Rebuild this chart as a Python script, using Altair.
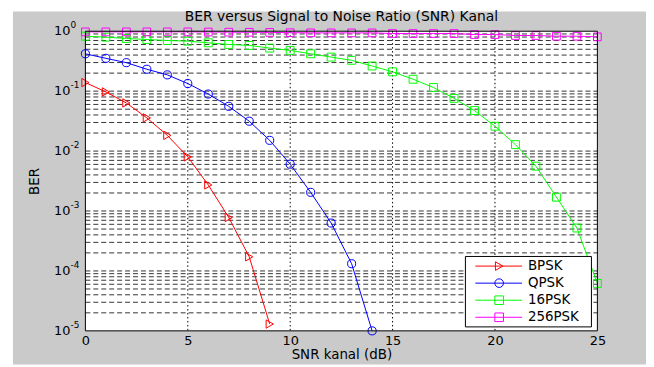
import altair as alt
import pandas as pd

# ---- data ----
series_names = ["BPSK", "QPSK", "16PSK", "256PSK"]
snr_bpsk = list(range(0, 10))
ber_bpsk = [0.139, 0.097, 0.0635, 0.0358, 0.0183, 0.0080, 0.00272, 0.00078, 0.000172, 1.3e-5]
snr_qpsk = list(range(0, 15))
ber_qpsk = [0.42, 0.353, 0.299, 0.232, 0.187, 0.134, 0.0895, 0.0558, 0.0315, 0.0151,
            0.00604, 0.00205, 0.00063, 0.000132, 1.0e-5]
snr_16psk = list(range(0, 26))
ber_16psk = [0.826, 0.796, 0.757, 0.728, 0.70, 0.683, 0.641, 0.601, 0.58, 0.523,
             0.479, 0.42, 0.37, 0.327, 0.263, 0.21, 0.158, 0.115, 0.0758, 0.0474,
             0.026, 0.0128, 0.0056, 0.0017, 0.00052, 6.2e-5]
snr_256psk = list(range(0, 26))
ber_256psk = [0.975, 0.975, 0.975, 0.975, 0.975, 0.975, 0.97, 0.965, 0.96, 0.955,
              0.945, 0.94, 0.938, 0.938, 0.938, 0.915, 0.915, 0.915, 0.915, 0.88,
              0.88, 0.848, 0.848, 0.826, 0.826, 0.806]
colors = ["#ff0000", "#0000ff", "#00ff00", "#ff00ff"]
shapes = ["triangle-right", "circle", "square", "square"]
x_ticks = [0, 5, 10, 15, 20, 25]
x_grid = [5, 10, 15, 20]
y_decades = [0, -1, -2, -3, -4, -5]
y_grid = [m * 10.0 ** k for k in range(-5, 0) for m in range(1, 10)][1:]

title_text = "BER versus Signal to Noise Ratio (SNR) Kanal"
x_title = "SNR kanal (dB)"
y_title = "BER"

FONT = "DejaVu Sans"
W, H = 516, 302

rows = []
for name, xs, ys in [("BPSK", snr_bpsk, ber_bpsk), ("QPSK", snr_qpsk, ber_qpsk),
                     ("16PSK", snr_16psk, ber_16psk), ("256PSK", snr_256psk, ber_256psk)]:
    for xv, yv in zip(xs, ys):
        rows.append({"series": name, "snr": xv, "ber": yv})
df = pd.DataFrame(rows)

xscale = alt.Scale(domain=[0, 25], nice=False, zero=False)
yscale = alt.Scale(type="log", domain=[1e-5, 1], nice=False)
cscale = alt.Scale(domain=series_names, range=colors)
sscale = alt.Scale(domain=series_names, range=shapes)
zscale = alt.Scale(domain=series_names, range=[70, 60, 80, 80])

X_AX = alt.Axis(values=x_ticks, title=x_title, grid=False, domain=False,
                ticks=False, labelFont=FONT, labelFontSize=13,
                labelColor="black", labelPadding=4, labelFlush=False,
                titleFont=FONT, titleFontSize=13.5, titleFontWeight="normal",
                titleColor="black", titleX=W / 2, titleY=24,
                titleBaseline="middle", zindex=1)
Y_AX = alt.Axis(labels=False, ticks=False, domain=False, grid=False,
                title=y_title, titleFont=FONT, titleFontSize=13.5,
                titleFontWeight="normal", titleColor="black",
                titleX=-51, titleY=H / 2, titleAngle=270,
                titleBaseline="middle", zindex=1)

one = pd.DataFrame({"k": [0]})

layers = []
# figure grey background
layers.append(alt.Chart(one).mark_rect(color="#cacaca").encode(
    x=alt.value(-73), x2=alt.value(565), y=alt.value(-20), y2=alt.value(336)))
# white plot area
layers.append(alt.Chart(one).mark_rect(color="white").encode(
    x=alt.value(0), x2=alt.value(W), y=alt.value(0), y2=alt.value(H)))
# horizontal grid
layers.append(alt.Chart(pd.DataFrame({"g": y_grid})).mark_rule(
    color="black", strokeWidth=1, strokeDash=[5, 3], opacity=0.8).encode(
    y=alt.Y("g:Q", scale=yscale, axis=Y_AX), x=alt.value(0), x2=alt.value(W)))
# vertical grid
layers.append(alt.Chart(pd.DataFrame({"g": x_grid})).mark_rule(
    color="black", strokeWidth=1, strokeDash=[1.5, 2.5]).encode(
    x=alt.X("g:Q", scale=xscale, axis=X_AX), y=alt.value(0), y2=alt.value(H)))
# lines
layers.append(alt.Chart(df).mark_line(strokeWidth=1).encode(
    x=alt.X("snr:Q", scale=xscale, axis=X_AX),
    y=alt.Y("ber:Q", scale=yscale, axis=Y_AX),
    color=alt.Color("series:N", scale=cscale, legend=None),
    order="snr:Q"))
# markers
layers.append(alt.Chart(df).mark_point(filled=False, strokeWidth=1, opacity=1).encode(
    x=alt.X("snr:Q", scale=xscale, axis=X_AX),
    y=alt.Y("ber:Q", scale=yscale, axis=Y_AX),
    color=alt.Color("series:N", scale=cscale, legend=None),
    shape=alt.Shape("series:N", scale=sscale, legend=None),
    size=alt.Size("series:N", scale=zscale, legend=None)))
# box
layers.append(alt.Chart(one).mark_rect(fill=None, stroke="black", strokeWidth=1).encode(
    x=alt.value(0), x2=alt.value(W), y=alt.value(0), y2=alt.value(H)))
# y tick labels 10^k
ylab = pd.DataFrame({"v": [10.0 ** k for k in y_decades],
                     "base": ["10"] * len(y_decades),
                     "exp": [str(k) for k in y_decades]})
layers.append(alt.Chart(ylab).mark_text(align="right", baseline="middle", font=FONT,
                                        fontSize=13, color="black").encode(
    y=alt.Y("v:Q", scale=yscale, axis=Y_AX), x=alt.value(-15), text="base:N"))
layers.append(alt.Chart(ylab).mark_text(align="left", baseline="middle", font=FONT,
                                        fontSize=9, dy=-6, color="black").encode(
    y=alt.Y("v:Q", scale=yscale, axis=Y_AX), x=alt.value(-15), text="exp:N"))
# title as text
layers.append(alt.Chart(pd.DataFrame({"t": [title_text]})).mark_text(
    align="center", baseline="middle", font=FONT, fontSize=14, color="black").encode(
    x=alt.value(W / 2), y=alt.value(-14), text="t:N"))
# legend
LX0, LX1, LY0, LY1 = 383, 510, 227, 298
layers.append(alt.Chart(one).mark_rect(fill="white", stroke="black", strokeWidth=1).encode(
    x=alt.value(LX0), x2=alt.value(LX1), y=alt.value(LY0), y2=alt.value(LY1)))
for i, (name, col, shp) in enumerate(zip(series_names, colors, shapes)):
    yy = 236.7 + 17.2 * i
    d = pd.DataFrame({"name": [name]})
    layers.append(alt.Chart(d).mark_rule(color=col, strokeWidth=1).encode(
        x=alt.value(393), x2=alt.value(440), y=alt.value(yy)))
    layers.append(alt.Chart(d).mark_point(shape=shp, color=col, filled=False,
                                          strokeWidth=1, size=75, opacity=1).encode(
        x=alt.value(417), y=alt.value(yy)))
    layers.append(alt.Chart(d).mark_text(align="left", baseline="middle", font=FONT,
                                         fontSize=13.5, color="black").encode(
        x=alt.value(446), y=alt.value(yy), text="name:N"))

chart = alt.layer(*layers).properties(
    width=W, height=H,
    autosize=alt.AutoSizeParams(type="none"),
    padding={"left": 78, "top": 22, "right": 49, "bottom": 34},
    background="white",
).configure_view(stroke=None)

chart.save("out.html", embed_options={"renderer": "svg", "actions": False})
